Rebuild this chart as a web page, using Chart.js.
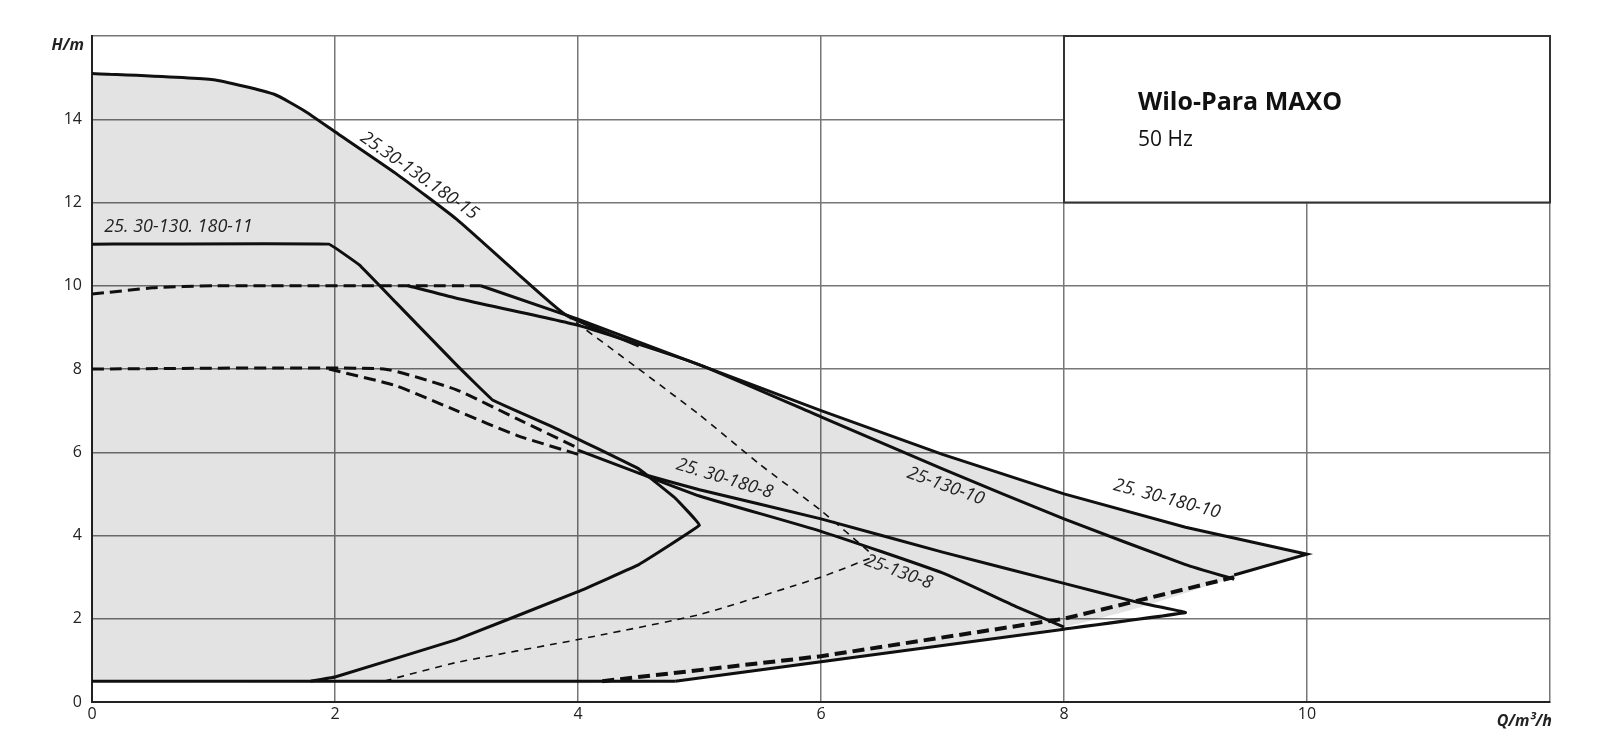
<!DOCTYPE html>
<html>
<head>
<meta charset="utf-8">
<script src="https://cdn.jsdelivr.net/npm/chart.js@4/dist/chart.umd.min.js"></script>
<style>
  body { margin: 0; background: #fff; }
  #wrap { width: 1605px; height: 744px; }
</style>
</head>
<body>
<div id="wrap"><canvas id="pumpChart"></canvas></div>
<script>
// pump curves, [Q m³/h, H m]
const envelopeTop = [[0, 15.1], [1, 14.95], [1.5, 14.6], [1.75, 14.2], [2, 13.7], [2.5, 12.7], [3, 11.6], [3.5, 10.3], [3.9, 9.3], [4.5, 8.55], [5, 8.05], [6, 6.95], [7, 5.95], [8, 5.0], [9, 4.2], [10, 3.55]];
const envelopeBottom = [[0, 0.5], [4.8, 0.5], [8, 1.8], [8.6, 2.25], [9.4, 3.0], [10, 3.55]];
const baseLine = [[0, 0.5], [4.8, 0.5]];
const curve11 = [[0, 11], [1.95, 11], [2.2, 10.5], [2.5, 9.6], [3, 8.1], [3.3, 7.25], [3.8, 6.6], [4.5, 5.6], [4.8, 4.9], [5, 4.25], [4.5, 3.3], [4, 2.65], [3, 1.5], [2, 0.6], [1.8, 0.5]];
const curve130_10 = [[2.6, 10], [3, 9.7], [4, 9.05], [5, 8.1], [6, 6.85], [7, 5.6], [8, 4.4], [9, 3.3], [9.4, 2.95]];
const curve180_10 = [[3.2, 10], [4, 9.2], [5, 8.1], [6, 7.0], [7, 5.95], [8, 5.0], [9, 4.2], [10, 3.55], [9.4, 3.05]];
const dash10 = [[0, 9.8], [0.5, 9.95], [1, 10], [3.2, 10]];
const dash8 = [[0, 8], [2.4, 8], [3, 7.5], [3.5, 6.8], [4, 6.1]];
const dash8b = [[1.95, 8], [2.5, 7.6], [3, 7.0], [3.5, 6.4], [4, 5.95]];
const curve180_8 = [[4, 6.05], [4.5, 5.5], [5, 5.1], [6, 4.4], [7, 3.6], [8, 2.85], [8.6, 2.4], [9, 2.15], [8, 1.75], [4.8, 0.5]];
const curve130_8 = [[4.5, 5.5], [5, 4.95], [6, 4.1], [7, 3.1], [7.6, 2.3], [8, 1.8]];
const dashBottom = [[4.2, 0.5], [6, 1.1], [8, 2.0], [9.4, 3.0]];
const systemUpper = [[3.9, 9.3], [4.5, 8.0], [5, 6.9], [5.5, 5.7], [6, 4.6], [6.4, 3.6]];
const systemLower = [[6.4, 3.45], [6, 3.0], [5, 2.1], [4, 1.5], [3, 0.95], [2.4, 0.5]];

const xTicks = [0, 2, 4, 6, 8, 10];
const yTicks = [0, 2, 4, 6, 8, 10, 12, 14];

const curveLabels = [
  { text: '25.30-130.180-15', q: 2.2, h: 13.5, angle: 35 },
  { text: '25. 30-130. 180-11', q: 0.1, h: 11.3, angle: 0 },
  { text: '25. 30-180-8', q: 4.8, h: 5.6, angle: 17 },
  { text: '25-130-10', q: 6.7, h: 5.4, angle: 20 },
  { text: '25. 30-180-10', q: 8.4, h: 5.1, angle: 15 },
  { text: '25-130-8', q: 6.35, h: 3.3, angle: 20 },
];

const pts = (arr) => arr.map(([x, y]) => ({ x, y }));

function line(data, opts = {}) {
  return Object.assign({
    data: pts(data),
    showLine: true,
    borderColor: '#111',
    borderWidth: 3,
    pointRadius: 0,
    fill: false,
    tension: 0.15,
  }, opts);
}

const titleBox = {
  id: 'titleBox',
  beforeDatasetsDraw(chart) {
    const { ctx, scales: { x, y } } = chart;
    const l = x.getPixelForValue(8), r = x.getPixelForValue(12);
    const t = y.getPixelForValue(16), b = y.getPixelForValue(12);
    ctx.save();
    ctx.fillStyle = '#fff';
    ctx.fillRect(l, t, r - l, b - t);
    ctx.strokeStyle = '#333';
    ctx.lineWidth = 2;
    ctx.strokeRect(l, t, r - l, b - t);
    ctx.fillStyle = '#111';
    ctx.font = 'bold 25px "Open Sans"';
    ctx.fillText('Wilo-Para MAXO', l + 74, t + 74);
    ctx.font = '21px "Open Sans"';
    ctx.fillText('50 Hz', l + 74, t + 110);
    ctx.restore();
  },
  afterDatasetsDraw(chart) {
    const { ctx, scales: { x, y } } = chart;
    ctx.save();
    ctx.fillStyle = '#222';
    ctx.font = 'italic 18px "Open Sans"';
    curveLabels.forEach((c) => {
      ctx.save();
      ctx.translate(x.getPixelForValue(c.q), y.getPixelForValue(c.h));
      ctx.rotate(c.angle * Math.PI / 180);
      ctx.fillText(c.text, 0, 0);
      ctx.restore();
    });
    ctx.font = 'italic bold 16px "Open Sans"';
    ctx.textAlign = 'right';
    ctx.fillText('H/m', x.left - 8, y.top + 14);
    ctx.fillText('Q/m³/h', x.right + 2, y.bottom + 24);
    ctx.restore();
  },
};

new Chart(document.getElementById('pumpChart'), {
  type: 'scatter',
  data: {
    datasets: [
      line(envelopeTop, { borderWidth: 0, fill: 1, backgroundColor: 'rgba(0,0,0,0.11)' }),
      line(envelopeBottom, { borderWidth: 0 }),
      line(envelopeTop.slice(0, 10)),
      line(curve130_10),
      line(curve180_10, { tension: 0 }),
      line(curve11, { tension: 0.05 }),
      line(baseLine, { tension: 0 }),
      line(dash10, { borderDash: [12, 6] }),
      line(dash8, { borderDash: [12, 6] }),
      line(dash8b, { borderDash: [12, 6] }),
      line(curve180_8, { tension: 0.05 }),
      line(curve130_8),
      line(dashBottom, { borderDash: [12, 6], borderWidth: 4, tension: 0 }),
      line(systemUpper, { borderWidth: 1.6, borderDash: [7, 6] }),
      line(systemLower, { borderWidth: 1.6, borderDash: [7, 6] }),
    ],
  },
  options: {
    responsive: true,
    maintainAspectRatio: false,
    animation: false,
    layout: { padding: { left: 42, top: 36, right: 55, bottom: 12 } },
    plugins: { legend: { display: false }, tooltip: { enabled: false } },
    scales: {
      x: {
        type: 'linear', min: 0, max: 12,
        afterBuildTicks: (s) => { s.ticks = xTicks.concat([12]).map((v) => ({ value: v })); },
        afterFit: (s) => { s.height = 30; },
        ticks: { color: '#222', font: { family: 'Open Sans', size: 16 }, maxRotation: 0, callback: (v) => (v === 12 ? '' : v) },
        grid: { color: '#777', lineWidth: 1.5, drawTicks: false },
        border: { color: '#222', width: 2 },
      },
      y: {
        type: 'linear', min: 0, max: 16,
        afterBuildTicks: (s) => { s.ticks = yTicks.concat([16]).map((v) => ({ value: v })); },
        afterFit: (s) => { s.width = 50; },
        ticks: { color: '#222', font: { family: 'Open Sans', size: 16 }, padding: 10, callback: (v) => (v === 16 ? '' : v) },
        grid: { color: '#777', lineWidth: 1.5, drawTicks: false },
        border: { color: '#222', width: 2 },
      },
    },
  },
  plugins: [titleBox],
});
</script>
</body>
</html>
